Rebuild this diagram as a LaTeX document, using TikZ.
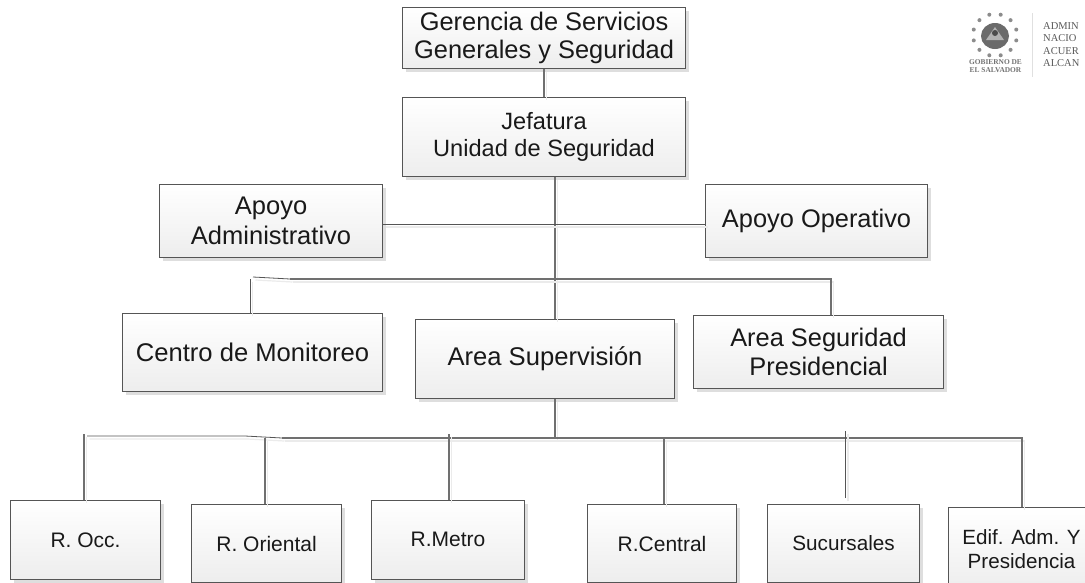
\documentclass[tikz,border=0pt]{standalone}
\usepackage{fontspec}
\setmainfont{Liberation Sans}
\newfontfamily\logofont{Liberation Serif}
\usetikzlibrary{shadows,calc}
\definecolor{edge}{HTML}{555555}
\definecolor{wire}{HTML}{707070}
\tikzset{
  orgbox/.style={draw=edge,line width=1.1pt,top color=white,bottom color=black!7,
    inner sep=0pt,align=center,text=black!90,
    general shadow={shadow xshift=3pt,shadow yshift=-3pt,fill=black!13}},
  softshadow/.style={preaction={draw=black!8,line width=1.2pt,transform canvas={shift={(2.5pt,-3pt)}}}},
  wire/.style={draw=wire,line width=1.3pt,softshadow},
  thinwire/.style={draw=edge,line width=.8pt,softshadow},
}
\newcommand{\orgnode}[7]{%
  \pgfmathsetmacro{\bw}{#4-#2}\pgfmathsetmacro{\bh}{#5-#3}%
  \pgfmathsetmacro{\bl}{#7*1.17}%
  \node[orgbox,minimum width=\bw pt,minimum height=\bh pt,anchor=north west,font=\fontsize{#7}{\bl}\selectfont] (#1) at (#2,#3) {#6};}
\begin{document}
\begin{tikzpicture}[x=1pt,y=-1pt]
\useasboundingbox (0,0) rectangle (1085,582);
\clip (0,0) rectangle (1085,582);
\fill[white] (0,0) rectangle (1085,582);

\coordinate (lt) at (250,279);
\coordinate (lk) at (290,279);
\coordinate (ls) at (253,277);
\coordinate (rt) at (831,279);
\coordinate (mid) at (555,279);
\coordinate (hl) at (555,224);
\coordinate (bm) at (555,438);
\coordinate (ba) at (87,436);
\coordinate (bb) at (245,436);
\coordinate (bc) at (282,438);
\coordinate (br) at (1022,438);

\orgnode{ger}{402}{7}{685}{68}{\raisebox{-2pt}{Gerencia de Servicios}\\Generales y Seguridad}{25.4}
\orgnode{jef}{402}{97}{685}{176}{Jefatura\\Unidad de Seguridad}{23.6}
\orgnode{adm}{159}{184}{382}{257}{Apoyo\\Administrativo}{25.5}
\orgnode{ope}{705}{184}{927}{257}{Apoyo Operativo}{25.4}
\orgnode{cen}{122}{313}{382}{391}{Centro de Monitoreo}{25.6}
\orgnode{sup}{415}{319}{674}{398}{Area Supervisión}{25.6}
\orgnode{seg}{693}{315}{943}{388}{Area Seguridad\\Presidencial}{25.4}
\orgnode{occ}{10}{500}{160}{579}{R. Occ.}{21}
\orgnode{ori}{191}{504}{341}{582}{R. Oriental}{21}
\orgnode{met}{371}{500}{524}{579}{\raisebox{1pt}{R.Metro}}{21}
\orgnode{ctr}{587}{504}{736}{582}{R.Central}{21}
\orgnode{suc}{767}{504}{919}{582}{Sucursales}{20.7}
\orgnode{edi}{948}{507}{1094}{591}{Edif. Adm. Y\\Presidencia}{20.6}

% connectors
\draw[wire] (ger.south -| 544,0) -- (jef.north -| 544,0);
\draw[wire] (jef.south -| mid) -- (sup.north -| mid);
\draw[thinwire] (adm.east |- hl) -- (ope.west |- hl);
\draw[thinwire] (cen.north -| lt) -- (lt);
\draw[thinwire] (ls) -- (lk);
\draw[wire] (lk) -- (rt) -- (seg.north -| rt);
\draw[wire] (sup.south -| bm) -- (bm);
\draw[thinwire] (ba) -- (bb) -- (bc);
\draw[wire] (bc) -- (br) -- (edi.north -| br);
\draw[wire] (occ.north -| 84,0) -- (84,434);
\draw[wire] (ori.north -| 265,0) -- (265,438);
\draw[wire] (met.north -| 449,0) -- (449,434);
\draw[wire] (ctr.north -| 664,0) -- (664,438);
\draw[thinwire] (845.5,498) -- (845.5,431);

% logo
\foreach \a in {15,45,...,345}
  \fill[black!45] ($(995,35)+(\a:22 and 21)$) circle (2);
\fill[black!58] (995,36) ellipse (14 and 13);
\fill[black!30] (995,27) -- (1004,40) -- (986,40) -- cycle;
\fill[black!70] (995,33) circle (3);
\node[font=\logofont\bfseries\fontsize{7.4}{8}\selectfont,text=black!55,align=center,inner sep=0pt] (gob) at (995.5,66) {GOBIERNO DE\\EL SALVADOR};
\draw[black!12,line width=1pt] (1032,13) -- (1032,77);
\node[font=\logofont\fontsize{10.5}{12.6}\selectfont,text=black!65,align=left,anchor=north west,inner sep=0pt] (ant) at (1043,22) {ADMIN\\NACIO\\ACUER\\ALCAN};
\end{tikzpicture}
\end{document}
